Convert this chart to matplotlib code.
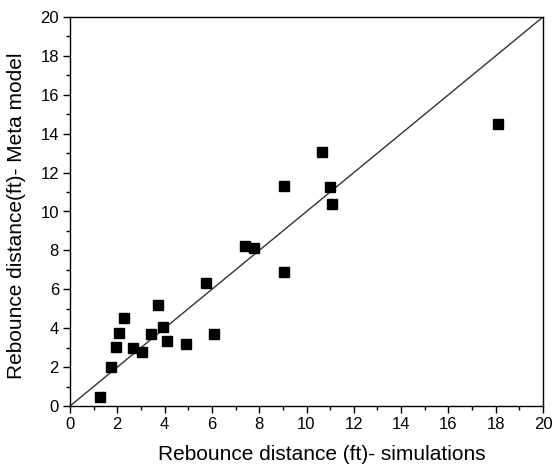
import matplotlib.pyplot as plt
from matplotlib.ticker import MultipleLocator

# === DATA ===
sim_x = [1.27, 1.73, 1.93, 2.09, 2.27, 2.66, 3.03, 3.41, 3.72, 3.95, 4.10,
         4.92, 5.74, 6.10, 7.41, 7.79, 9.03, 9.05, 10.67, 11.00, 11.09, 18.10]
meta_y = [0.48, 2.02, 3.02, 3.77, 4.54, 3.00, 2.76, 3.72, 5.21, 4.06, 3.36,
          3.17, 6.31, 3.72, 8.23, 8.11, 6.91, 11.31, 13.04, 11.28, 10.39, 14.50]
ref_line = [0, 20]

plt.rcParams['font.family'] = ['Liberation Sans', 'DejaVu Sans']

fig = plt.figure(figsize=(5.52, 4.68), dpi=100)
ax = fig.add_axes([70 / 552, 62 / 468, 473 / 552, 389 / 468])

ax.plot(ref_line, ref_line, color='#333333', lw=1.0, zorder=2)
ax.plot(sim_x, meta_y, 's', color='black', markersize=6.8, zorder=3)

ax.set_xlim(0, 20)
ax.set_ylim(0, 20)
ax.xaxis.set_major_locator(MultipleLocator(2))
ax.xaxis.set_minor_locator(MultipleLocator(1))
ax.yaxis.set_major_locator(MultipleLocator(2))
ax.yaxis.set_minor_locator(MultipleLocator(1))
ax.tick_params(which='both', direction='out', top=False, right=False,
               labelsize=12, width=1, pad=3)
ax.tick_params(which='major', length=5)
ax.tick_params(which='minor', length=3)
for s in ax.spines.values():
    s.set_linewidth(1)

ax.set_xlabel('Rebounce distance (ft)- simulations', fontsize=15)
ax.set_ylabel('Rebounce distance(ft)- Meta model', fontsize=15)
# label positions nudged to match the original layout
ax.xaxis.set_label_coords(0.532, -0.1, transform=ax.transAxes)
ax.xaxis.label.set_va('top')
ax.yaxis.set_label_coords(-0.093, 0.49, transform=ax.transAxes)

plt.savefig('out.png', dpi=100)
